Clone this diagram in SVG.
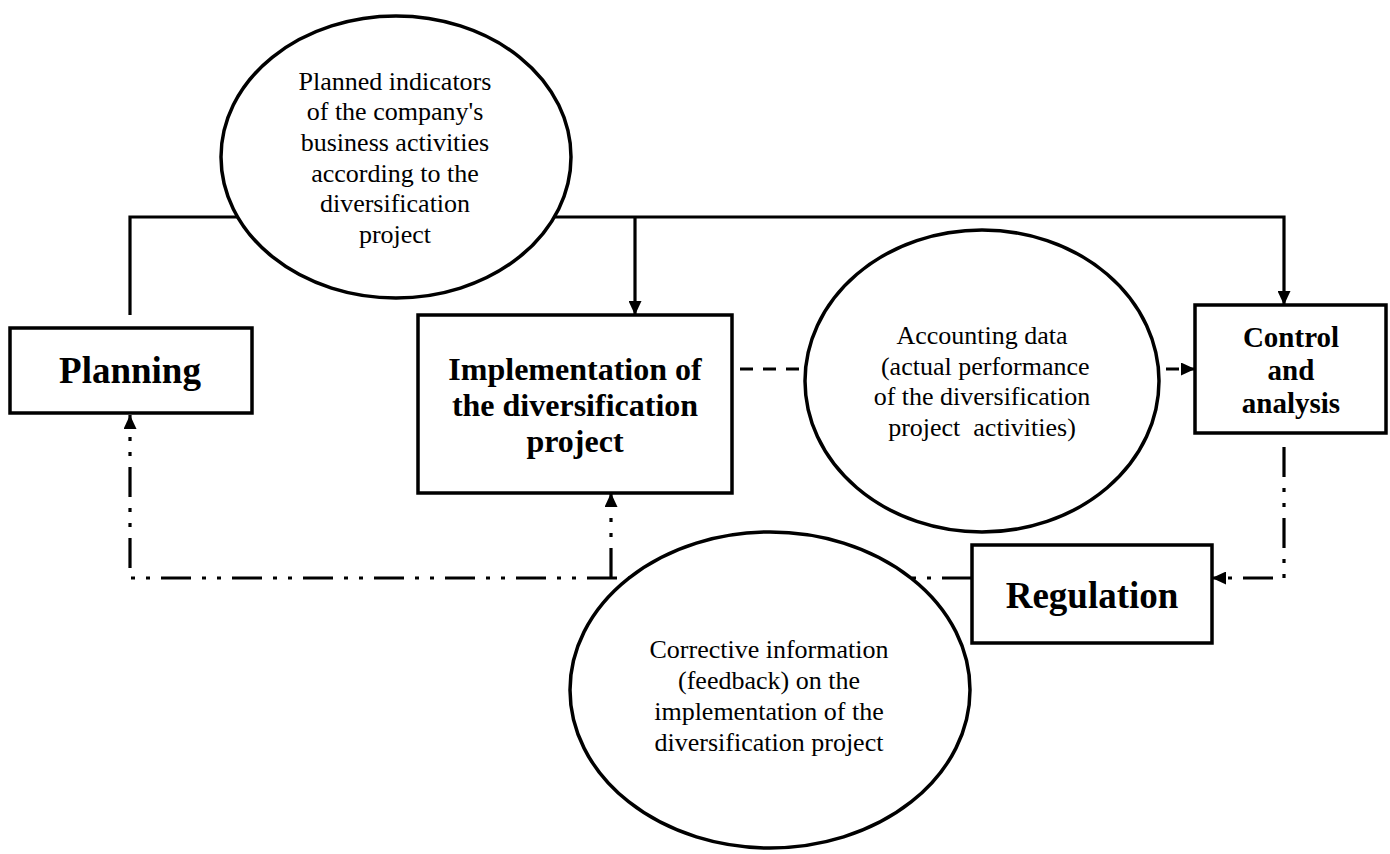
<svg xmlns="http://www.w3.org/2000/svg" width="1390" height="854" viewBox="0 0 1390 854">
  <defs>
    <marker id="arrow" viewBox="0 0 14 13" refX="14" refY="6.5" markerWidth="14" markerHeight="13" markerUnits="userSpaceOnUse" orient="auto">
      <path d="M0,0 L14,6.5 L0,13 Z" fill="#000"/>
    </marker>
    <style>
      .box { fill: #fff; stroke: #000; stroke-width: 3.5; }
      .oval { fill: #fff; stroke: #000; stroke-width: 3.5; }
      .solid { fill: none; stroke: #000; stroke-width: 3.2; }
      .dash { fill: none; stroke: #000; stroke-width: 3.2; stroke-dasharray: 13 10; }
      .dashdot { fill: none; stroke: #000; stroke-width: 3.2; stroke-dasharray: 30 11 4 11 4 11; }
      .note { font-family: "Liberation Serif", "Times New Roman", serif; font-size: 26px; text-anchor: middle; fill: #000; }
      .title { font-family: "Liberation Serif", "Times New Roman", serif; font-weight: bold; text-anchor: middle; fill: #000; }
    </style>
  </defs>

  <!-- connectors -->
  <g id="connectors">
    <!-- planned indicators feed implementation and control -->
    <path class="solid" d="M130,315 L130,217 L396,217"/>
    <path class="solid" d="M396,217 L1284,217 L1284,305" marker-end="url(#arrow)"/>
    <path class="solid" d="M635,217 L635,315" marker-end="url(#arrow)"/>
    <!-- accounting data flow -->
    <path class="dash" d="M740,369 L982,369"/>
    <path class="dash" d="M982,369 L1195,369" marker-end="url(#arrow)"/>
    <!-- control to regulation -->
    <path class="dashdot" d="M1284,447 L1284,578 L1212,578" marker-end="url(#arrow)"/>
    <!-- corrective feedback -->
    <path class="dashdot" d="M972,578 L130,578 L130,415" marker-end="url(#arrow)"/>
    <path class="dashdot" d="M611,578 L611,493" marker-end="url(#arrow)"/>
  </g>

  <g id="planned-indicators">
    <ellipse class="oval" cx="396" cy="157" rx="175" ry="141"/>
    <text class="note" x="395" y="90">Planned indicators</text>
    <text class="note" x="395" y="120">of the company's</text>
    <text class="note" x="395" y="151">business activities</text>
    <text class="note" x="395" y="182">according to the</text>
    <text class="note" x="395" y="212">diversification</text>
    <text class="note" x="395" y="243">project</text>
  </g>

  <g id="planning">
    <rect class="box" x="10" y="328" width="242" height="85"/>
    <text class="title" x="130" y="383" font-size="37">Planning</text>
  </g>

  <g id="implementation">
    <rect class="box" x="418" y="315" width="314" height="178"/>
    <text class="title" x="575" y="380" font-size="32">Implementation of</text>
    <text class="title" x="575" y="416" font-size="32">the diversification</text>
    <text class="title" x="575" y="452" font-size="32">project</text>
  </g>

  <g id="accounting-data">
    <ellipse class="oval" cx="982" cy="381" rx="177" ry="151"/>
    <text class="note" x="982" y="344">Accounting data</text>
    <text class="note" x="982" y="375" xml:space="preserve"> (actual performance</text>
    <text class="note" x="982" y="405">of the diversification</text>
    <text class="note" x="982" y="436" xml:space="preserve">project  activities)</text>
  </g>

  <g id="control">
    <rect class="box" x="1195" y="305" width="191" height="128"/>
    <text class="title" x="1291" y="347" font-size="29">Control</text>
    <text class="title" x="1291" y="380" font-size="29">and</text>
    <text class="title" x="1291" y="413" font-size="29">analysis</text>
  </g>

  <g id="regulation">
    <rect class="box" x="972" y="545" width="240" height="98"/>
    <text class="title" x="1092" y="608" font-size="37">Regulation</text>
  </g>

  <g id="corrective-information">
    <ellipse class="oval" cx="770" cy="690" rx="200" ry="158"/>
    <text class="note" x="769" y="658">Corrective information</text>
    <text class="note" x="769" y="689">(feedback) on the</text>
    <text class="note" x="769" y="720">implementation of the</text>
    <text class="note" x="769" y="751">diversification project</text>
  </g>
</svg>
